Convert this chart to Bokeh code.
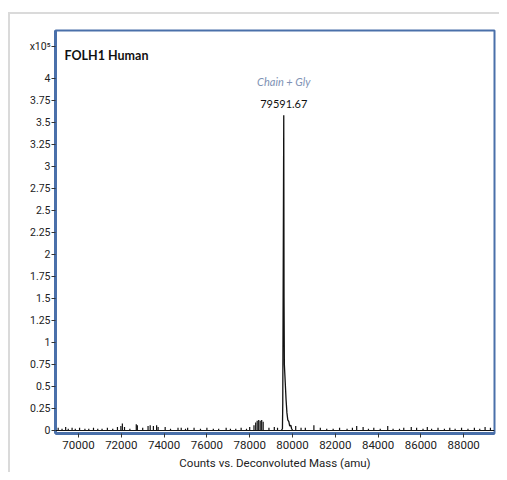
from bokeh.plotting import figure
from bokeh.models import FixedTicker, Label, Span, Range1d, BasicTickFormatter
from bokeh.embed import file_html
from bokeh.resources import INLINE

# ---- data (intensities in units of 1e5 counts) ----
peak_mass = [79480, 79530, 79545, 79591.67, 79605, 79620, 79660, 79700, 79740, 79780,
             79830, 79870, 79920, 79960, 80010]
peak_int = [0.0, 0.02, 0.3, 3.58, 1.5, 0.75, 0.55, 0.35, 0.2, 0.12,
            0.1, 0.05, 0.06, 0.02, 0.0]

noise_mass = [69050, 69230, 69400, 69520, 69700, 69850, 70050, 70300, 70480, 70700,
              70900, 71100, 71350, 71600, 71820, 71980, 72050, 72150, 72400, 72700,
              72750, 73000, 73250, 73350, 73500, 73650, 73720, 74050, 74300, 74650,
              74800, 75000, 75100, 75400, 75700, 76000, 76300, 76550, 76900, 77100,
              77350, 77600, 77850, 78000, 78200, 78280, 78350, 78420, 78490, 78560,
              78630, 78900, 79150, 79300, 80150, 80400, 80600, 81000, 81300, 81600,
              81900, 82200, 82550, 82800, 83000, 83300, 83550, 83800, 84100, 84450,
              84700, 85000, 85200, 85550, 85800, 86100, 86300, 86500, 86800, 87100,
              87350, 87600, 87900, 88200, 88500, 88750, 89000, 89250]
noise_int = [0.03, 0.02, 0.04, 0.02, 0.03, 0.02, 0.03, 0.02, 0.02, 0.03,
             0.02, 0.02, 0.03, 0.02, 0.04, 0.05, 0.08, 0.04, 0.02, 0.07,
             0.06, 0.03, 0.05, 0.06, 0.05, 0.06, 0.04, 0.04, 0.02, 0.03,
             0.03, 0.02, 0.03, 0.03, 0.02, 0.03, 0.02, 0.02, 0.03, 0.02,
             0.02, 0.03, 0.02, 0.04, 0.06, 0.09, 0.11, 0.12, 0.11, 0.12,
             0.10, 0.03, 0.04, 0.03, 0.05, 0.03, 0.03, 0.06, 0.03, 0.02,
             0.02, 0.03, 0.02, 0.03, 0.05, 0.04, 0.02, 0.03, 0.02, 0.05,
             0.02, 0.02, 0.03, 0.04, 0.03, 0.02, 0.04, 0.02, 0.03, 0.02,
             0.03, 0.02, 0.03, 0.02, 0.03, 0.02, 0.04, 0.03]

x_ticks = [70000, 72000, 74000, 76000, 78000, 80000, 82000, 84000, 86000, 88000]
y_ticks = [0, 0.25, 0.5, 0.75, 1, 1.25, 1.5, 1.75, 2, 2.25, 2.5, 2.75, 3, 3.25, 3.5, 3.75, 4]
y_tick_labels = ["0", "0.25", "0.5", "0.75", "1", "1.25", "1.5", "1.75", "2", "2.25",
                 "2.5", "2.75", "3", "3.25", "3.5", "3.75", "4"]
y_multiplier_pos = 4.36
y_multiplier_text = "x10\u2075"

title_text = "FOLH1 Human"
peak_name = "Chain + Gly"
peak_label = "79591.67"
x_label = "Counts vs. Deconvoluted Mass (amu)"

BLUE = "#4a70aa"
FONT = "Roboto"
GRAY = "#dadada"

p = figure(width=499, height=472, output_backend="svg", toolbar_location=None,
           x_range=Range1d(68925, 89440), y_range=Range1d(-0.034, 4.541),
           min_border_left=55, min_border_right=5, min_border_top=30, min_border_bottom=36)

p.grid.visible = False
p.outline_line_color = BLUE
p.outline_line_width = 2
p.background_fill_color = "white"
p.border_fill_alpha = 0

# light gray page frame behind the plot
p.styles = {
    "background-color": "white",
    "background-image": f"linear-gradient({GRAY}, {GRAY}), linear-gradient({GRAY}, {GRAY})",
    "background-size": "2px 100%, 100% 2px",
    "background-position": "8px 12px, 8px 12px",
    "background-repeat": "no-repeat",
}

# axes
for ax in (p.xaxis[0], p.yaxis[0]):
    ax.axis_line_color = BLUE
    ax.axis_line_width = 3
    ax.major_tick_line_color = "#333333"
    ax.major_tick_in = 0
    ax.major_tick_out = 4
    ax.minor_tick_line_color = None
    ax.major_label_text_color = "#222222"
    ax.major_label_text_font = FONT

p.xaxis.ticker = FixedTicker(ticks=x_ticks)
p.xaxis.formatter = BasicTickFormatter(use_scientific=False)
p.xaxis.major_label_text_font_size = "11.5px"
p.xaxis.major_label_standoff = 3
p.xaxis.axis_label = x_label
p.xaxis.axis_label_text_font = FONT
p.xaxis.axis_label_text_font_style = "normal"
p.xaxis.axis_label_text_font_size = "11.5px"
p.xaxis.axis_label_text_color = "#222222"
p.xaxis.axis_label_standoff = 4

p.yaxis.ticker = FixedTicker(ticks=y_ticks + [y_multiplier_pos])
overrides = {t: s for t, s in zip(y_ticks, y_tick_labels)}
overrides[y_multiplier_pos] = y_multiplier_text
p.yaxis.major_label_overrides = overrides
p.yaxis.major_label_text_font_size = "10.5px"
p.yaxis.major_label_standoff = 1

# baseline + noise sticks + main peak
p.add_layout(Span(location=0, dimension="width", line_color="#111111", line_width=1.2))
p.segment(x0=noise_mass, y0=[0] * len(noise_mass), x1=noise_mass, y1=noise_int,
          line_color="#111111", line_width=1.2)
p.line(peak_mass, peak_int, line_color="#111111", line_width=1.3)

# texts
p.add_layout(Label(x=69346, y=4.26, text=title_text, text_font="Lato",
                   text_font_style="bold", text_font_size="12.5px", text_color="#111111",
                   text_baseline="middle"))
p.add_layout(Label(x=peak_mass[3], y=peak_int[3], y_offset=27, text=peak_name,
                   text_font="Lato", text_font_style="italic", text_font_size="11px",
                   text_color="#7f93b5", text_align="center", text_baseline="bottom"))
p.add_layout(Label(x=peak_mass[3], y=peak_int[3], y_offset=7, text=peak_label,
                   text_font="Lato", text_font_size="11px",
                   text_color="#111111", text_align="center", text_baseline="bottom"))

open("out.html", "w").write(file_html(p, INLINE))
